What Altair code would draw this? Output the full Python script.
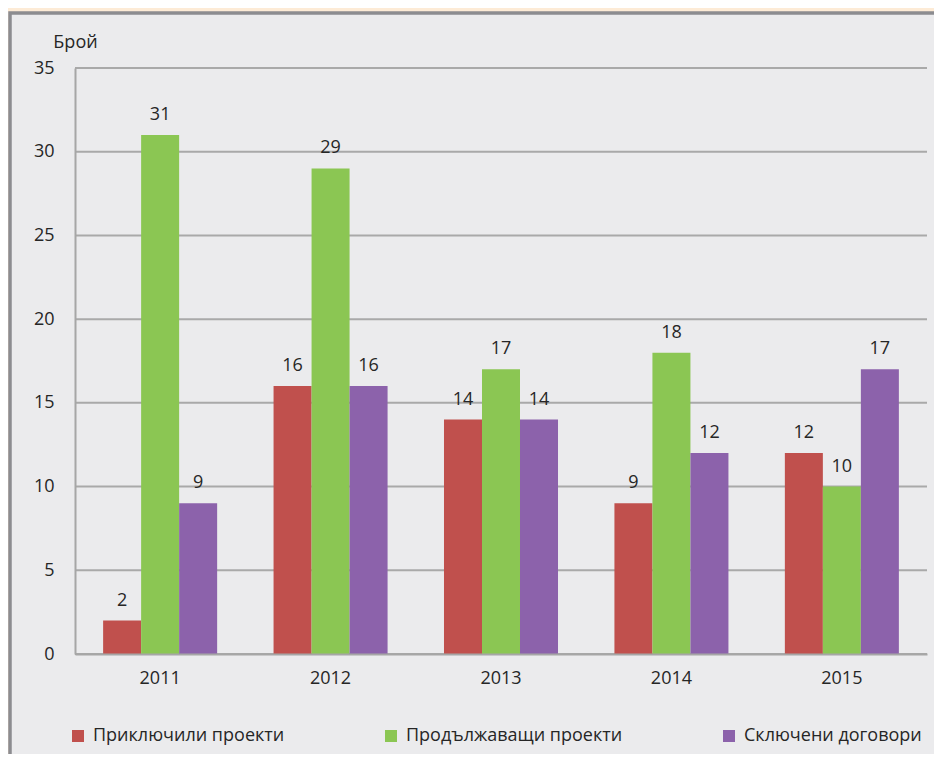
import altair as alt
import pandas as pd

years = ["2011", "2012", "2013", "2014", "2015"]
series = ["Приключили проекти", "Продължаващи проекти", "Сключени договори"]
completed = [2, 16, 14, 9, 12]
ongoing = [31, 29, 17, 18, 10]
contracts = [9, 16, 14, 12, 17]
colors = ["#C0504D", "#8BC653", "#8C62AB"]
y_ticks = [0, 5, 10, 15, 20, 25, 30, 35]

rows = []
for i, y in enumerate(years):
    for s, vals in zip(series, [completed, ongoing, contracts]):
        rows.append({"year": y, "series": s, "value": vals[i]})
df = pd.DataFrame(rows)
grid_df = pd.DataFrame({"value": y_ticks})
frame_df = pd.DataFrame({"k": [0]})

W, H = 852, 586
FONT = "Open Sans"
TXT = "#262626"
FS = 18

y_scale = alt.Scale(domain=[0, 35], nice=False, zero=True)
y_axis = alt.Axis(values=y_ticks, grid=False, ticks=False, tickSize=0, labelPadding=21,
                  domain=True, domainColor="#A6A6A6", domainWidth=2,
                  labelFont=FONT, labelFontSize=FS, labelColor=TXT,
                  title="Брой", titleAngle=0, titleAlign="center", titleBaseline="alphabetic",
                  titleX=0, titleY=-21, titleFont=FONT, titleFontSize=FS,
                  titleFontWeight="normal", titleColor=TXT, zindex=1)
x_axis = alt.Axis(title=None, ticks=False, tickSize=0, labelAngle=0, labelPadding=15,
                  domain=True, domainColor="#A6A6A6", domainWidth=2,
                  labelFont=FONT, labelFontSize=FS, labelColor=TXT, zindex=1)
x_enc = alt.X("year:N", sort=years, axis=x_axis,
              scale=alt.Scale(paddingInner=0.331, paddingOuter=0.165))
xo_enc = alt.XOffset("series:N", sort=series, scale=alt.Scale(paddingInner=0, paddingOuter=0))

frame = alt.Chart(frame_df).mark_rect(
    fill="#EBEBED", stroke="#8C8C90", strokeWidth=3.5, clip=False
).encode(x=alt.value(-65), x2=alt.value(W + 40), y=alt.value(-55), y2=alt.value(H + 150))

grid = alt.Chart(grid_df).mark_rule(color="#A9A9A9", strokeWidth=2).encode(
    y=alt.Y("value:Q", scale=y_scale, axis=y_axis),
    x=alt.value(0), x2=alt.value(W),
)

bars = alt.Chart(df).mark_bar(stroke=None).encode(
    x=x_enc, xOffset=xo_enc,
    y=alt.Y("value:Q", scale=y_scale, axis=y_axis),
    color=alt.Color("series:N", sort=series,
                    scale=alt.Scale(domain=series, range=colors),
                    legend=alt.Legend(title=None, orient="none", direction="horizontal",
                                      legendX=-6, legendY=659, symbolType="square",
                                      symbolSize=144, symbolStrokeWidth=0, labelOffset=6,
                                      labelFont=FONT, labelFontSize=FS, labelColor=TXT,
                                      columnPadding=97, labelLimit=400)),
)

labels = alt.Chart(df).mark_text(baseline="alphabetic", dy=-15, font=FONT, fontSize=FS, color=TXT).encode(
    x=x_enc, xOffset=xo_enc,
    y=alt.Y("value:Q", scale=y_scale, axis=y_axis),
    text=alt.Text("value:Q"),
)

chart = alt.layer(frame, grid, bars, labels).properties(
    width=W, height=H,
    background="#FDEBD6",
    padding={"left": 67, "top": 60, "right": 7, "bottom": 100},
    autosize=alt.AutoSizeParams(type="none"),
).configure_view(stroke=None)

chart.save("out.html", embed_options={"renderer": "svg", "actions": False})
